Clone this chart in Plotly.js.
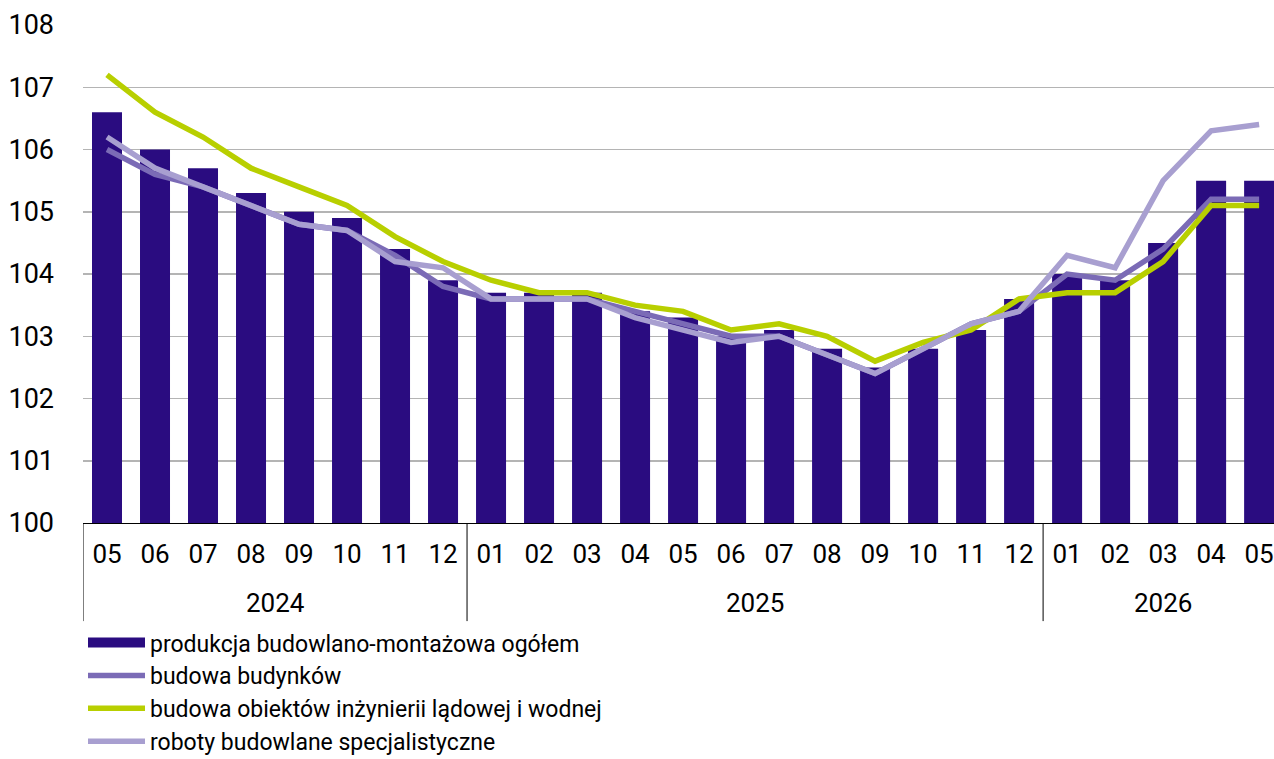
<!DOCTYPE html>
<html>
<head>
<meta charset="utf-8">
<script src="https://cdn.plot.ly/plotly-3.0.1.min.js"></script>
<style>
html,body{margin:0;padding:0;background:#fff;}
#chart{width:1274px;height:759px;}
</style>
</head>
<body>
<div id="chart"></div>
<script>
const years = ['2024','2024','2024','2024','2024','2024','2024','2024',
  '2025','2025','2025','2025','2025','2025','2025','2025','2025','2025','2025','2025',
  '2026','2026','2026','2026','2026'];
const months = ['05','06','07','08','09','10','11','12',
  '01','02','03','04','05','06','07','08','09','10','11','12',
  '01','02','03','04','05'];

const ogolem = [106.6,106.0,105.7,105.3,105.0,104.9,104.4,103.9,
  103.7,103.7,103.7,103.4,103.3,103.0,103.1,102.8,102.5,102.8,103.1,103.6,
  104.0,103.9,104.5,105.5,105.5];
const budynki = [106.0,105.6,105.4,105.1,104.8,104.7,104.3,103.8,
  103.6,103.6,103.6,103.4,103.2,103.0,103.0,102.7,102.4,102.8,103.2,103.4,
  104.0,103.9,104.4,105.2,105.2];
const inzynieria = [107.2,106.6,106.2,105.7,105.4,105.1,104.6,104.2,
  103.9,103.7,103.7,103.5,103.4,103.1,103.2,103.0,102.6,102.9,103.1,103.6,
  103.7,103.7,104.2,105.1,105.1];
const specjalistyczne = [106.2,105.7,105.4,105.1,104.8,104.7,104.2,104.1,
  103.6,103.6,103.6,103.3,103.1,102.9,103.0,102.7,102.4,102.8,103.2,103.4,
  104.3,104.1,105.5,106.3,106.4];

const names = ['produkcja budowlano-montażowa ogółem','budowa budynków',
  'budowa obiektów inżynierii lądowej i wodnej','roboty budowlane specjalistyczne'];
const colors = ['#2a0c80','#7b6bb6','#b8cf00','#a89fd0'];
const yTicks = [100,101,102,103,104,105,106,107,108];

const FONT = 'Roboto, "Liberation Sans", sans-serif';
const xi = months.map((m, i) => i);

// year groups: first/last index of each year
const groups = [];
years.forEach((y, i) => {
  const g = groups[groups.length - 1];
  if (g && g.year === y) g.end = i; else groups.push({year: y, start: i, end: i});
});

const annotations = groups.map(g => ({
  xref:'x', yref:'paper', x:(g.start + g.end) / 2, y:-0.161, yanchor:'middle',
  text:g.year, showarrow:false, font:{family:FONT, size:26, color:'#000'}
}));
const shapes = groups.map(g => ({
  type:'line', xref:'x', yref:'paper', x0:g.start - 0.5, x1:g.start - 0.5, y0:0, y1:-0.197,
  line:{color:'#000', width:1}
}));

const traces = [
  {type:'bar', x:xi, y:ogolem, name:names[0], marker:{color:colors[0]}, showlegend:false},
  {type:'scatter', mode:'lines', x:[null], y:[null], name:names[0], line:{color:colors[0], width:13}, legendrank:1},
  {type:'scatter', mode:'lines', x:xi, y:budynki, name:names[1], line:{color:colors[1], width:5.5}, legendrank:2},
  {type:'scatter', mode:'lines', x:xi, y:inzynieria, name:names[2], line:{color:colors[2], width:5.5}, legendrank:3},
  {type:'scatter', mode:'lines', x:xi, y:specjalistyczne, name:names[3], line:{color:colors[3], width:5.5}, legendrank:4}
];

const layout = {
  width:1274, height:759,
  margin:{l:83, r:0, t:25, b:236, autoexpand:false},
  paper_bgcolor:'#fff', plot_bgcolor:'#fff',
  font:{family:FONT, color:'#000', size:26},
  bargap:0.375,
  showlegend:true,
  legend:{orientation:'v', x:0, xanchor:'left', y:-0.197, yanchor:'top',
    font:{family:FONT, size:23, color:'#000'}, itemwidth:57, tracegroupgap:0,
    bgcolor:'rgba(0,0,0,0)'},
  xaxis:{range:[-0.5,24.31], tickvals:xi, ticktext:months, showgrid:false, zeroline:false,
    showline:true, linecolor:'#000', linewidth:1, ticks:'', ticklabelstandoff:8,
    tickfont:{family:FONT, size:26, color:'#000'}},
  yaxis:{range:[100,108], tickvals:yTicks, ticktext:yTicks.map(String),
    showgrid:true, gridcolor:'#b4b4b4', gridwidth:1.5, zeroline:false, showline:false,
    ticks:'', ticklabelstandoff:28, tickfont:{family:FONT, size:27, color:'#000'}},
  annotations:annotations,
  shapes:shapes,
  hovermode:false
};

Plotly.newPlot('chart', traces, layout, {displayModeBar:false, staticPlot:true});
</script>
</body>
</html>
